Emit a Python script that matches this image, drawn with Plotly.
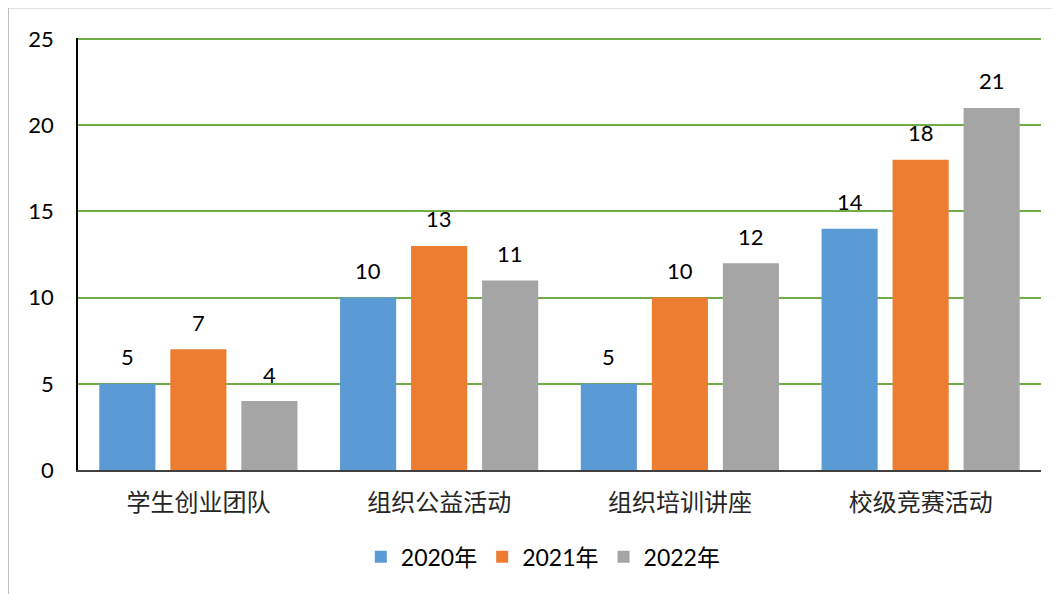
import plotly.graph_objects as go

categories = ["学生创业团队", "组织公益活动", "组织培训讲座", "校级竞赛活动"]
series_names = ["2020年", "2021年", "2022年"]
values_2020 = [5, 10, 5, 14]
values_2021 = [7, 13, 10, 18]
values_2022 = [4, 11, 12, 21]
colors = ["#5B9BD5", "#ED7D31", "#A5A5A5"]
y_ticks = [0, 5, 10, 15, 20, 25]

all_values = [values_2020, values_2021, values_2022]
NUM_FONT = "Lato, 'Noto Sans CJK SC', sans-serif"

fig = go.Figure()
for name, vals, col in zip(series_names, all_values, colors):
    fig.add_trace(go.Bar(x=categories, y=vals, name=name, marker_color=col,
                         marker_line_width=0))

# data labels
shifts = [-71, 0, 71]
for vals, dx in zip(all_values, shifts):
    for c, v in zip(categories, vals):
        fig.add_annotation(x=c, y=v, text=str(v), showarrow=False, xshift=dx, yshift=27,
                           yanchor="middle", font=dict(family=NUM_FONT, size=22, color="#000000"))

# outer chart border
fig.add_shape(type="rect", xref="paper", yref="paper", x0=-0.0722, x1=1.2, y0=-0.4, y1=1.0696,
              line=dict(color="#BFBFBF", width=1), fillcolor="rgba(0,0,0,0)", layer="above")

fig.update_layout(
    template="none",
    width=1060, height=594,
    margin=dict(l=70, r=27, t=30, b=132),
    paper_bgcolor="white", plot_bgcolor="white",
    barmode="group", bargap=0.115, bargroupgap=0.21,
    showlegend=True,
    legend=dict(orientation="h", xref="container", yref="container", x=0.505, y=0.076,
                xanchor="center", yanchor="middle", font=dict(family=NUM_FONT, size=23, color="#000000"),
                itemwidth=30, tracegroupgap=0),
    xaxis=dict(showline=True, linecolor="#404040", linewidth=1.5, showgrid=False, ticks="",
               tickfont=dict(family="'Noto Sans CJK SC', sans-serif", size=24, color="#262626"),
               ticklabelstandoff=10),
    yaxis=dict(range=[0, 25.06], tickvals=y_ticks, showline=True, linecolor="#000000", linewidth=1.5,
               showgrid=True, gridcolor="rgb(112,173,71)", gridwidth=1.5, zeroline=False, ticks="",
               tickfont=dict(family=NUM_FONT, size=22, color="#000000"), ticklabelstandoff=18),
)

fig.write_html("out.html")
